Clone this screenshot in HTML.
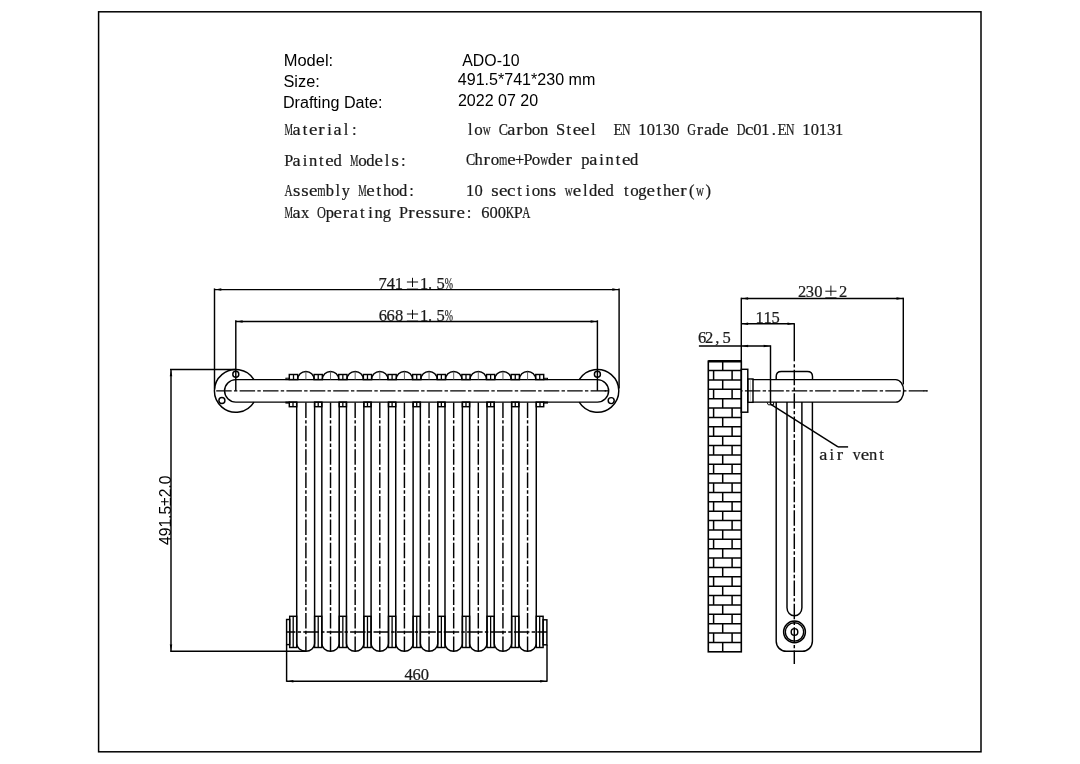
<!DOCTYPE html>
<html><head><meta charset="utf-8"><title>ADO-10</title><style>
html,body{margin:0;padding:0;background:#fff;width:1080px;height:764px;overflow:hidden}
svg{display:block;will-change:transform}
svg *{vector-effect:none}
.s line,.s path,.s rect,.s circle{stroke:#000;fill:none;stroke-width:1.45}
.s .ah{fill:#000;stroke:none}
.s .cl{stroke-dasharray:15.5 2.25 3.4 2.25;stroke-width:1.45}
.s .thin{stroke:#555;stroke-width:0.9}
text{fill:#000;stroke:none}
.ss{font-family:"Liberation Sans",sans-serif;font-size:15.8px;fill:#000}
.sf{font-family:"Liberation Serif",serif;font-size:16.5px;fill:#1a1a1a;stroke:#1a1a1a;stroke-width:0.22px}
</style></head><body>
<svg class="s" width="1080" height="764" viewBox="0 0 1080 764">
<rect x="98.6" y="11.8" width="882.4" height="740" style="stroke-width:1.5px"/>
<text class="ss" transform="translate(283.65 66.1) scale(1.045 1)">Model:</text>
<text class="ss" transform="translate(283.46 86.6) scale(1.034 1)">Size:</text>
<text class="ss" transform="translate(282.88 108.3) scale(1.022 1)">Drafting Date:</text>
<text class="ss" transform="translate(462.27 65.8) scale(1.005 1)">ADO-10</text>
<text class="ss" transform="translate(457.83 85.3) scale(1.017 1)">491.5*741*230 mm</text>
<text class="ss" transform="translate(457.89 106.4) scale(1.015 1)">2022 07 20</text>
<text class="sf" transform="translate(284.38 134.8) scale(0.576 1)">M</text>
<text class="sf" transform="translate(292.56 134.8) scale(1.105 1)">a</text>
<text class="sf" x="302.68" y="134.8">t</text>
<text class="sf" transform="translate(308.95 134.8) scale(1.150 1)">e</text>
<text class="sf" transform="translate(318.13 134.8) scale(1.150 1)">r</text>
<text class="sf" x="327.29" y="134.8">i</text>
<text class="sf" transform="translate(333.56 134.8) scale(1.105 1)">a</text>
<text class="sf" x="343.71" y="134.8">l</text>
<text class="sf" x="351.92" y="134.8">:</text>
<text class="sf" x="468.11" y="135">l</text>
<text class="sf" transform="translate(474.35 135) scale(1.030 1)">o</text>
<text class="sf" transform="translate(482.84 135) scale(0.668 1)">w</text>
<text class="sf" transform="translate(498.68 135) scale(0.839 1)">C</text>
<text class="sf" transform="translate(507.16 135) scale(1.105 1)">a</text>
<text class="sf" transform="translate(516.33 135) scale(1.150 1)">r</text>
<text class="sf" x="523.99" y="135">b</text>
<text class="sf" transform="translate(531.75 135) scale(1.030 1)">o</text>
<text class="sf" x="540.01" y="135">n</text>
<text class="sf" x="555.97" y="135">S</text>
<text class="sf" x="566.48" y="135">t</text>
<text class="sf" transform="translate(572.75 135) scale(1.150 1)">e</text>
<text class="sf" transform="translate(580.95 135) scale(1.150 1)">e</text>
<text class="sf" x="591.11" y="135">l</text>
<text class="sf" transform="translate(613.62 135) scale(0.900 1)">E</text>
<text class="sf" transform="translate(621.91 135) scale(0.714 1)">N</text>
<text class="sf" x="638.25" y="135">1</text>
<text class="sf" x="646.67" y="135">0</text>
<text class="sf" x="654.65" y="135">1</text>
<text class="sf" x="663" y="135">3</text>
<text class="sf" x="671.27" y="135">0</text>
<text class="sf" transform="translate(687.35 135) scale(0.737 1)">G</text>
<text class="sf" transform="translate(696.73 135) scale(1.150 1)">r</text>
<text class="sf" transform="translate(703.96 135) scale(1.105 1)">a</text>
<text class="sf" x="712.08" y="135">d</text>
<text class="sf" transform="translate(720.35 135) scale(1.150 1)">e</text>
<text class="sf" transform="translate(736.7 135) scale(0.733 1)">D</text>
<text class="sf" transform="translate(744.92 135) scale(1.150 1)">c</text>
<text class="sf" x="753.27" y="135">0</text>
<text class="sf" x="761.25" y="135">1</text>
<text class="sf" x="771.74" y="135">.</text>
<text class="sf" transform="translate(777.62 135) scale(0.900 1)">E</text>
<text class="sf" transform="translate(785.91 135) scale(0.714 1)">N</text>
<text class="sf" x="802.25" y="135">1</text>
<text class="sf" x="810.67" y="135">0</text>
<text class="sf" x="818.65" y="135">1</text>
<text class="sf" x="827" y="135">3</text>
<text class="sf" x="835.05" y="135">1</text>
<text class="sf" transform="translate(284.18 166) scale(0.983 1)">P</text>
<text class="sf" transform="translate(292.56 166) scale(1.105 1)">a</text>
<text class="sf" x="302.69" y="166">i</text>
<text class="sf" x="309.01" y="166">n</text>
<text class="sf" x="319.08" y="166">t</text>
<text class="sf" transform="translate(325.35 166) scale(1.150 1)">e</text>
<text class="sf" x="333.48" y="166">d</text>
<text class="sf" transform="translate(349.98 166) scale(0.576 1)">M</text>
<text class="sf" transform="translate(358.15 166) scale(1.030 1)">o</text>
<text class="sf" x="366.28" y="166">d</text>
<text class="sf" transform="translate(374.55 166) scale(1.150 1)">e</text>
<text class="sf" x="384.71" y="166">l</text>
<text class="sf" transform="translate(391.46 166) scale(1.150 1)">s</text>
<text class="sf" x="401.12" y="166">:</text>
<text class="sf" transform="translate(465.88 165.2) scale(0.839 1)">C</text>
<text class="sf" x="474.5" y="165.2">h</text>
<text class="sf" transform="translate(483.53 165.2) scale(1.150 1)">r</text>
<text class="sf" transform="translate(490.75 165.2) scale(1.030 1)">o</text>
<text class="sf" transform="translate(499.03 165.2) scale(0.646 1)">m</text>
<text class="sf" transform="translate(507.15 165.2) scale(1.150 1)">e</text>
<text class="sf" x="514.94" y="165.2">+</text>
<text class="sf" transform="translate(523.38 165.2) scale(0.983 1)">P</text>
<text class="sf" transform="translate(531.75 165.2) scale(1.030 1)">o</text>
<text class="sf" transform="translate(540.24 165.2) scale(0.668 1)">w</text>
<text class="sf" x="548.08" y="165.2">d</text>
<text class="sf" transform="translate(556.35 165.2) scale(1.150 1)">e</text>
<text class="sf" transform="translate(565.53 165.2) scale(1.150 1)">r</text>
<text class="sf" x="581.26" y="165.2">p</text>
<text class="sf" transform="translate(589.16 165.2) scale(1.105 1)">a</text>
<text class="sf" x="599.29" y="165.2">i</text>
<text class="sf" x="605.61" y="165.2">n</text>
<text class="sf" x="615.68" y="165.2">t</text>
<text class="sf" transform="translate(621.95 165.2) scale(1.150 1)">e</text>
<text class="sf" x="630.08" y="165.2">d</text>
<text class="sf" transform="translate(284.54 195.5) scale(0.679 1)">A</text>
<text class="sf" transform="translate(293.06 195.5) scale(1.150 1)">s</text>
<text class="sf" transform="translate(301.26 195.5) scale(1.150 1)">s</text>
<text class="sf" transform="translate(308.95 195.5) scale(1.150 1)">e</text>
<text class="sf" transform="translate(317.23 195.5) scale(0.646 1)">m</text>
<text class="sf" x="325.79" y="195.5">b</text>
<text class="sf" x="335.51" y="195.5">l</text>
<text class="sf" transform="translate(341.85 195.5) scale(0.989 1)">y</text>
<text class="sf" transform="translate(358.18 195.5) scale(0.576 1)">M</text>
<text class="sf" transform="translate(366.35 195.5) scale(1.150 1)">e</text>
<text class="sf" x="376.48" y="195.5">t</text>
<text class="sf" x="382.9" y="195.5">h</text>
<text class="sf" transform="translate(390.95 195.5) scale(1.030 1)">o</text>
<text class="sf" x="399.08" y="195.5">d</text>
<text class="sf" x="409.32" y="195.5">:</text>
<text class="sf" x="466.05" y="195.6">1</text>
<text class="sf" x="474.48" y="195.6">0</text>
<text class="sf" transform="translate(491.26 195.6) scale(1.150 1)">s</text>
<text class="sf" transform="translate(498.95 195.6) scale(1.150 1)">e</text>
<text class="sf" transform="translate(507.12 195.6) scale(1.150 1)">c</text>
<text class="sf" x="517.28" y="195.6">t</text>
<text class="sf" x="525.49" y="195.6">i</text>
<text class="sf" transform="translate(531.75 195.6) scale(1.030 1)">o</text>
<text class="sf" x="540.01" y="195.6">n</text>
<text class="sf" transform="translate(548.66 195.6) scale(1.150 1)">s</text>
<text class="sf" transform="translate(564.84 195.6) scale(0.668 1)">w</text>
<text class="sf" transform="translate(572.75 195.6) scale(1.150 1)">e</text>
<text class="sf" x="582.91" y="195.6">l</text>
<text class="sf" x="589.08" y="195.6">d</text>
<text class="sf" transform="translate(597.35 195.6) scale(1.150 1)">e</text>
<text class="sf" x="605.48" y="195.6">d</text>
<text class="sf" x="623.88" y="195.6">t</text>
<text class="sf" transform="translate(630.15 195.6) scale(1.030 1)">o</text>
<text class="sf" x="638.28" y="195.6">g</text>
<text class="sf" transform="translate(646.55 195.6) scale(1.150 1)">e</text>
<text class="sf" x="656.68" y="195.6">t</text>
<text class="sf" x="663.1" y="195.6">h</text>
<text class="sf" transform="translate(671.15 195.6) scale(1.150 1)">e</text>
<text class="sf" transform="translate(680.33 195.6) scale(1.150 1)">r</text>
<text class="sf" x="688.96" y="195.6">(</text>
<text class="sf" transform="translate(696.04 195.6) scale(0.668 1)">w</text>
<text class="sf" x="705.55" y="195.6">)</text>
<text class="sf" transform="translate(284.38 218.1) scale(0.576 1)">M</text>
<text class="sf" transform="translate(292.56 218.1) scale(1.105 1)">a</text>
<text class="sf" x="300.91" y="218.1">x</text>
<text class="sf" transform="translate(316.94 218.1) scale(0.748 1)">O</text>
<text class="sf" x="325.66" y="218.1">p</text>
<text class="sf" transform="translate(333.55 218.1) scale(1.150 1)">e</text>
<text class="sf" transform="translate(342.73 218.1) scale(1.150 1)">r</text>
<text class="sf" transform="translate(349.96 218.1) scale(1.105 1)">a</text>
<text class="sf" x="360.08" y="218.1">t</text>
<text class="sf" x="368.29" y="218.1">i</text>
<text class="sf" x="374.61" y="218.1">n</text>
<text class="sf" x="382.68" y="218.1">g</text>
<text class="sf" transform="translate(398.98 218.1) scale(0.983 1)">P</text>
<text class="sf" transform="translate(408.33 218.1) scale(1.150 1)">r</text>
<text class="sf" transform="translate(415.55 218.1) scale(1.150 1)">e</text>
<text class="sf" transform="translate(424.26 218.1) scale(1.150 1)">s</text>
<text class="sf" transform="translate(432.46 218.1) scale(1.150 1)">s</text>
<text class="sf" x="440.31" y="218.1">u</text>
<text class="sf" transform="translate(449.33 218.1) scale(1.150 1)">r</text>
<text class="sf" transform="translate(456.55 218.1) scale(1.150 1)">e</text>
<text class="sf" x="466.72" y="218.1">:</text>
<text class="sf" x="481.17" y="218.1">6</text>
<text class="sf" x="489.48" y="218.1">0</text>
<text class="sf" x="497.67" y="218.1">0</text>
<text class="sf" transform="translate(505.72 218.1) scale(0.701 1)">K</text>
<text class="sf" transform="translate(513.78 218.1) scale(0.983 1)">P</text>
<text class="sf" transform="translate(522.34 218.1) scale(0.679 1)">A</text>
<line x1="214.5" y1="288.4" x2="214.5" y2="388.6"/>
<line x1="619.1" y1="288.4" x2="619.1" y2="388.6"/>
<line x1="214.5" y1="289.6" x2="619.1" y2="289.6"/>
<path class="ah" d="M215.3 289.6L221.3 288.35L221.3 290.85Z"/>
<path class="ah" d="M618.3 289.6L612.3 290.85L612.3 288.35Z"/>
<line x1="235.8" y1="320.3" x2="235.8" y2="390.85"/>
<line x1="597.4" y1="320.3" x2="597.4" y2="390.85"/>
<line x1="235.8" y1="321.5" x2="597.4" y2="321.5"/>
<path class="ah" d="M236.6 321.5L242.6 320.25L242.6 322.75Z"/>
<path class="ah" d="M596.6 321.5L590.6 322.75L590.6 320.25Z"/>
<text class="sf" x="378.57" y="288.6">7</text>
<text class="sf" x="386.64" y="288.6">4</text>
<text class="sf" x="394.85" y="288.6">1</text>
<line x1="412.5" y1="277.8" x2="412.5" y2="287" style="stroke-width:0.95px"/>
<line x1="406.9" y1="282" x2="418.1" y2="282" style="stroke-width:0.95px"/>
<line x1="406.9" y1="289.1" x2="418.1" y2="289.1" style="stroke-width:0.95px"/>
<text class="sf" x="419.95" y="288.6">1</text>
<text class="sf" x="427.94" y="288.6">.</text>
<text class="sf" x="436.52" y="288.6">5</text>
<text class="sf" transform="translate(444.86 288.6) scale(0.602 1)">%</text>
<text class="sf" x="378.77" y="320.6">6</text>
<text class="sf" x="386.57" y="320.6">6</text>
<text class="sf" x="395.07" y="320.6">8</text>
<line x1="412.5" y1="309.8" x2="412.5" y2="319" style="stroke-width:0.95px"/>
<line x1="406.9" y1="314" x2="418.1" y2="314" style="stroke-width:0.95px"/>
<line x1="406.9" y1="321.1" x2="418.1" y2="321.1" style="stroke-width:0.95px"/>
<text class="sf" x="419.95" y="320.6">1</text>
<text class="sf" x="427.94" y="320.6">.</text>
<text class="sf" x="436.52" y="320.6">5</text>
<text class="sf" transform="translate(444.86 320.6) scale(0.602 1)">%</text>
<path d="M254 379.6A21.4 21.4 0 1 0 254 402.1"/>
<path d="M579.2 379.6A21.4 21.4 0 1 1 579.2 402.1"/>
<circle cx="235.8" cy="374.2" r="3"/>
<circle cx="221.9" cy="400.5" r="3"/>
<circle cx="597.4" cy="374.3" r="3"/>
<circle cx="611.2" cy="400.6" r="3"/>
<path d="M235.8 379.6H597.4A11.25 11.25 0 0 1 597.4 402.1H235.8A11.25 11.25 0 0 1 235.8 379.6Z"/>
<line x1="215.2" y1="390.85" x2="608.4" y2="390.85" class="cl" stroke-dashoffset="22.4"/>
<line x1="604.6" y1="390.85" x2="608.4" y2="390.85" style="stroke-width:1.3px"/>
<path d="M297.7 379.6A8.2 8.2 0 0 1 314.1 379.6"/>
<line x1="305.9" y1="371.4" x2="305.9" y2="379.6" class="thin"/>
<path d="M296.7 402.1V643.4C296.7 647.75 300.84 651.3 305.9 651.3C310.69 651.3 314.6 647.75 314.6 643.4V402.1"/>
<line x1="305.9" y1="402.4" x2="305.9" y2="651.3" class="cl"/>
<path d="M322.33 379.6A8.2 8.2 0 0 1 338.73 379.6"/>
<line x1="330.53" y1="371.4" x2="330.53" y2="379.6" class="thin"/>
<path d="M321.83 402.1V643.4C321.83 647.75 325.74 651.3 330.53 651.3C335.31 651.3 339.23 647.75 339.23 643.4V402.1"/>
<line x1="330.53" y1="402.4" x2="330.53" y2="651.3" class="cl"/>
<path d="M346.96 379.6A8.2 8.2 0 0 1 363.36 379.6"/>
<line x1="355.16" y1="371.4" x2="355.16" y2="379.6" class="thin"/>
<path d="M346.46 402.1V643.4C346.46 647.75 350.37 651.3 355.16 651.3C359.94 651.3 363.86 647.75 363.86 643.4V402.1"/>
<line x1="355.16" y1="402.4" x2="355.16" y2="651.3" class="cl"/>
<path d="M371.59 379.6A8.2 8.2 0 0 1 387.99 379.6"/>
<line x1="379.79" y1="371.4" x2="379.79" y2="379.6" class="thin"/>
<path d="M371.09 402.1V643.4C371.09 647.75 375 651.3 379.79 651.3C384.57 651.3 388.49 647.75 388.49 643.4V402.1"/>
<line x1="379.79" y1="402.4" x2="379.79" y2="651.3" class="cl"/>
<path d="M396.22 379.6A8.2 8.2 0 0 1 412.62 379.6"/>
<line x1="404.42" y1="371.4" x2="404.42" y2="379.6" class="thin"/>
<path d="M395.72 402.1V643.4C395.72 647.75 399.63 651.3 404.42 651.3C409.2 651.3 413.12 647.75 413.12 643.4V402.1"/>
<line x1="404.42" y1="402.4" x2="404.42" y2="651.3" class="cl"/>
<path d="M420.85 379.6A8.2 8.2 0 0 1 437.25 379.6"/>
<line x1="429.05" y1="371.4" x2="429.05" y2="379.6" class="thin"/>
<path d="M420.35 402.1V643.4C420.35 647.75 424.26 651.3 429.05 651.3C433.83 651.3 437.75 647.75 437.75 643.4V402.1"/>
<line x1="429.05" y1="402.4" x2="429.05" y2="651.3" class="cl"/>
<path d="M445.48 379.6A8.2 8.2 0 0 1 461.88 379.6"/>
<line x1="453.68" y1="371.4" x2="453.68" y2="379.6" class="thin"/>
<path d="M444.98 402.1V643.4C444.98 647.75 448.89 651.3 453.68 651.3C458.46 651.3 462.38 647.75 462.38 643.4V402.1"/>
<line x1="453.68" y1="402.4" x2="453.68" y2="651.3" class="cl"/>
<path d="M470.11 379.6A8.2 8.2 0 0 1 486.51 379.6"/>
<line x1="478.31" y1="371.4" x2="478.31" y2="379.6" class="thin"/>
<path d="M469.61 402.1V643.4C469.61 647.75 473.52 651.3 478.31 651.3C483.09 651.3 487.01 647.75 487.01 643.4V402.1"/>
<line x1="478.31" y1="402.4" x2="478.31" y2="651.3" class="cl"/>
<path d="M494.74 379.6A8.2 8.2 0 0 1 511.14 379.6"/>
<line x1="502.94" y1="371.4" x2="502.94" y2="379.6" class="thin"/>
<path d="M494.24 402.1V643.4C494.24 647.75 498.15 651.3 502.94 651.3C507.72 651.3 511.64 647.75 511.64 643.4V402.1"/>
<line x1="502.94" y1="402.4" x2="502.94" y2="651.3" class="cl"/>
<path d="M519.37 379.6A8.2 8.2 0 0 1 535.77 379.6"/>
<line x1="527.57" y1="371.4" x2="527.57" y2="379.6" class="thin"/>
<path d="M518.87 402.1V643.4C518.87 647.75 522.78 651.3 527.57 651.3C532.35 651.3 536.27 647.75 536.27 643.4V402.1"/>
<line x1="527.57" y1="402.4" x2="527.57" y2="651.3" class="cl"/>
<rect x="314.1" y="374.5" width="8.23" height="5.1"/>
<line x1="318.21" y1="374.5" x2="318.21" y2="379.6" style="stroke-width:1.3px"/>
<rect x="314.6" y="402.1" width="7.23" height="4.6"/>
<line x1="318.21" y1="402.1" x2="318.21" y2="406.7" style="stroke-width:1.3px"/>
<rect x="338.73" y="374.5" width="8.23" height="5.1"/>
<line x1="342.84" y1="374.5" x2="342.84" y2="379.6" style="stroke-width:1.3px"/>
<rect x="339.23" y="402.1" width="7.23" height="4.6"/>
<line x1="342.84" y1="402.1" x2="342.84" y2="406.7" style="stroke-width:1.3px"/>
<rect x="363.36" y="374.5" width="8.23" height="5.1"/>
<line x1="367.47" y1="374.5" x2="367.47" y2="379.6" style="stroke-width:1.3px"/>
<rect x="363.86" y="402.1" width="7.23" height="4.6"/>
<line x1="367.47" y1="402.1" x2="367.47" y2="406.7" style="stroke-width:1.3px"/>
<rect x="387.99" y="374.5" width="8.23" height="5.1"/>
<line x1="392.1" y1="374.5" x2="392.1" y2="379.6" style="stroke-width:1.3px"/>
<rect x="388.49" y="402.1" width="7.23" height="4.6"/>
<line x1="392.1" y1="402.1" x2="392.1" y2="406.7" style="stroke-width:1.3px"/>
<rect x="412.62" y="374.5" width="8.23" height="5.1"/>
<line x1="416.73" y1="374.5" x2="416.73" y2="379.6" style="stroke-width:1.3px"/>
<rect x="413.12" y="402.1" width="7.23" height="4.6"/>
<line x1="416.73" y1="402.1" x2="416.73" y2="406.7" style="stroke-width:1.3px"/>
<rect x="437.25" y="374.5" width="8.23" height="5.1"/>
<line x1="441.36" y1="374.5" x2="441.36" y2="379.6" style="stroke-width:1.3px"/>
<rect x="437.75" y="402.1" width="7.23" height="4.6"/>
<line x1="441.36" y1="402.1" x2="441.36" y2="406.7" style="stroke-width:1.3px"/>
<rect x="461.88" y="374.5" width="8.23" height="5.1"/>
<line x1="465.99" y1="374.5" x2="465.99" y2="379.6" style="stroke-width:1.3px"/>
<rect x="462.38" y="402.1" width="7.23" height="4.6"/>
<line x1="465.99" y1="402.1" x2="465.99" y2="406.7" style="stroke-width:1.3px"/>
<rect x="486.51" y="374.5" width="8.23" height="5.1"/>
<line x1="490.62" y1="374.5" x2="490.62" y2="379.6" style="stroke-width:1.3px"/>
<rect x="487.01" y="402.1" width="7.23" height="4.6"/>
<line x1="490.62" y1="402.1" x2="490.62" y2="406.7" style="stroke-width:1.3px"/>
<rect x="511.14" y="374.5" width="8.23" height="5.1"/>
<line x1="515.25" y1="374.5" x2="515.25" y2="379.6" style="stroke-width:1.3px"/>
<rect x="511.64" y="402.1" width="7.23" height="4.6"/>
<line x1="515.25" y1="402.1" x2="515.25" y2="406.7" style="stroke-width:1.3px"/>
<rect x="289.3" y="374.5" width="8.4" height="5.1"/>
<line x1="293.5" y1="374.5" x2="293.5" y2="379.6" style="stroke-width:1.3px"/>
<rect x="535.77" y="374.5" width="7.93" height="5.1"/>
<line x1="539.74" y1="374.5" x2="539.74" y2="379.6" style="stroke-width:1.3px"/>
<rect x="289.3" y="402.1" width="7.4" height="4.6"/>
<line x1="293" y1="402.1" x2="293" y2="406.7" style="stroke-width:1.3px"/>
<rect x="536.27" y="402.1" width="7.43" height="4.6"/>
<line x1="539.99" y1="402.1" x2="539.99" y2="406.7" style="stroke-width:1.3px"/>
<rect x="285.9" y="378.2" width="3.4" height="1.4" style="stroke-width:1px"/>
<rect x="543.7" y="378.3" width="3.8" height="1.3" style="stroke-width:1px"/>
<rect x="285.9" y="402.1" width="3.4" height="1" style="stroke-width:1px"/>
<rect x="543.7" y="402.1" width="3.8" height="1" style="stroke-width:1px"/>
<rect x="314.6" y="616.3" width="7.23" height="31.2"/>
<line x1="318.21" y1="616.3" x2="318.21" y2="647.5" style="stroke-width:1.3px"/>
<rect x="339.23" y="616.3" width="7.23" height="31.2"/>
<line x1="342.84" y1="616.3" x2="342.84" y2="647.5" style="stroke-width:1.3px"/>
<rect x="363.86" y="616.3" width="7.23" height="31.2"/>
<line x1="367.47" y1="616.3" x2="367.47" y2="647.5" style="stroke-width:1.3px"/>
<rect x="388.49" y="616.3" width="7.23" height="31.2"/>
<line x1="392.1" y1="616.3" x2="392.1" y2="647.5" style="stroke-width:1.3px"/>
<rect x="413.12" y="616.3" width="7.23" height="31.2"/>
<line x1="416.73" y1="616.3" x2="416.73" y2="647.5" style="stroke-width:1.3px"/>
<rect x="437.75" y="616.3" width="7.23" height="31.2"/>
<line x1="441.36" y1="616.3" x2="441.36" y2="647.5" style="stroke-width:1.3px"/>
<rect x="462.38" y="616.3" width="7.23" height="31.2"/>
<line x1="465.99" y1="616.3" x2="465.99" y2="647.5" style="stroke-width:1.3px"/>
<rect x="487.01" y="616.3" width="7.23" height="31.2"/>
<line x1="490.62" y1="616.3" x2="490.62" y2="647.5" style="stroke-width:1.3px"/>
<rect x="511.64" y="616.3" width="7.23" height="31.2"/>
<line x1="515.25" y1="616.3" x2="515.25" y2="647.5" style="stroke-width:1.3px"/>
<rect x="289.7" y="616.3" width="7" height="31.2"/>
<line x1="293.2" y1="616.3" x2="293.2" y2="647.5" style="stroke-width:1.3px"/>
<rect x="536.27" y="616.3" width="6.83" height="31.2"/>
<line x1="539.68" y1="616.3" x2="539.68" y2="647.5" style="stroke-width:1.3px"/>
<rect x="286.6" y="619.5" width="3.1" height="25.1"/>
<rect x="543.1" y="619.8" width="3.8" height="25"/>
<line x1="286.6" y1="632" x2="547" y2="632" class="cl" stroke-dashoffset="6.7"/>
<line x1="170" y1="369.4" x2="235.8" y2="369.4"/>
<line x1="170.2" y1="651.3" x2="305.9" y2="651.3"/>
<line x1="171" y1="369.4" x2="171" y2="651.3"/>
<path class="ah" d="M171 370.2L172.25 376.2L169.75 376.2Z"/>
<path class="ah" d="M171 650.5L169.75 644.5L172.25 644.5Z"/>
<text class="ss" transform="translate(170.6 510.3) rotate(-90)" text-anchor="middle" style="font-size:15.6px">491.5±2.0</text>
<line x1="286.6" y1="644.6" x2="286.6" y2="681.8"/>
<line x1="547" y1="644.8" x2="547" y2="681.8"/>
<line x1="286.6" y1="681.3" x2="547" y2="681.3"/>
<path class="ah" d="M287.4 681.3L293.4 680.05L293.4 682.55Z"/>
<path class="ah" d="M546.2 681.3L540.2 682.55L540.2 680.05Z"/>
<text class="sf" x="404.44" y="680.4">4</text>
<text class="sf" x="412.47" y="680.4">6</text>
<text class="sf" x="420.68" y="680.4">0</text>
<g stroke-width="1.6">
<rect x="708.3" y="361.2" width="33" height="290.6" style="stroke-width:1.6px"/>
<line x1="708.3" y1="370.57" x2="741.3" y2="370.57" style="stroke-width:1.5px"/>
<line x1="708.3" y1="379.95" x2="741.3" y2="379.95" style="stroke-width:1.5px"/>
<line x1="708.3" y1="389.32" x2="741.3" y2="389.32" style="stroke-width:1.5px"/>
<line x1="708.3" y1="398.7" x2="741.3" y2="398.7" style="stroke-width:1.5px"/>
<line x1="708.3" y1="408.07" x2="741.3" y2="408.07" style="stroke-width:1.5px"/>
<line x1="708.3" y1="417.45" x2="741.3" y2="417.45" style="stroke-width:1.5px"/>
<line x1="708.3" y1="426.82" x2="741.3" y2="426.82" style="stroke-width:1.5px"/>
<line x1="708.3" y1="436.19" x2="741.3" y2="436.19" style="stroke-width:1.5px"/>
<line x1="708.3" y1="445.57" x2="741.3" y2="445.57" style="stroke-width:1.5px"/>
<line x1="708.3" y1="454.94" x2="741.3" y2="454.94" style="stroke-width:1.5px"/>
<line x1="708.3" y1="464.32" x2="741.3" y2="464.32" style="stroke-width:1.5px"/>
<line x1="708.3" y1="473.69" x2="741.3" y2="473.69" style="stroke-width:1.5px"/>
<line x1="708.3" y1="483.06" x2="741.3" y2="483.06" style="stroke-width:1.5px"/>
<line x1="708.3" y1="492.44" x2="741.3" y2="492.44" style="stroke-width:1.5px"/>
<line x1="708.3" y1="501.81" x2="741.3" y2="501.81" style="stroke-width:1.5px"/>
<line x1="708.3" y1="511.19" x2="741.3" y2="511.19" style="stroke-width:1.5px"/>
<line x1="708.3" y1="520.56" x2="741.3" y2="520.56" style="stroke-width:1.5px"/>
<line x1="708.3" y1="529.94" x2="741.3" y2="529.94" style="stroke-width:1.5px"/>
<line x1="708.3" y1="539.31" x2="741.3" y2="539.31" style="stroke-width:1.5px"/>
<line x1="708.3" y1="548.68" x2="741.3" y2="548.68" style="stroke-width:1.5px"/>
<line x1="708.3" y1="558.06" x2="741.3" y2="558.06" style="stroke-width:1.5px"/>
<line x1="708.3" y1="567.43" x2="741.3" y2="567.43" style="stroke-width:1.5px"/>
<line x1="708.3" y1="576.81" x2="741.3" y2="576.81" style="stroke-width:1.5px"/>
<line x1="708.3" y1="586.18" x2="741.3" y2="586.18" style="stroke-width:1.5px"/>
<line x1="708.3" y1="595.55" x2="741.3" y2="595.55" style="stroke-width:1.5px"/>
<line x1="708.3" y1="604.93" x2="741.3" y2="604.93" style="stroke-width:1.5px"/>
<line x1="708.3" y1="614.3" x2="741.3" y2="614.3" style="stroke-width:1.5px"/>
<line x1="708.3" y1="623.68" x2="741.3" y2="623.68" style="stroke-width:1.5px"/>
<line x1="708.3" y1="633.05" x2="741.3" y2="633.05" style="stroke-width:1.5px"/>
<line x1="708.3" y1="642.43" x2="741.3" y2="642.43" style="stroke-width:1.5px"/>
<line x1="722.7" y1="361.2" x2="722.7" y2="370.57" style="stroke-width:1.5px"/>
<line x1="713.6" y1="370.57" x2="713.6" y2="379.95" style="stroke-width:1.5px"/>
<line x1="732.1" y1="370.57" x2="732.1" y2="379.95" style="stroke-width:1.5px"/>
<line x1="722.7" y1="379.95" x2="722.7" y2="389.32" style="stroke-width:1.5px"/>
<line x1="713.6" y1="389.32" x2="713.6" y2="398.7" style="stroke-width:1.5px"/>
<line x1="732.1" y1="389.32" x2="732.1" y2="398.7" style="stroke-width:1.5px"/>
<line x1="722.7" y1="398.7" x2="722.7" y2="408.07" style="stroke-width:1.5px"/>
<line x1="713.6" y1="408.07" x2="713.6" y2="417.45" style="stroke-width:1.5px"/>
<line x1="732.1" y1="408.07" x2="732.1" y2="417.45" style="stroke-width:1.5px"/>
<line x1="722.7" y1="417.45" x2="722.7" y2="426.82" style="stroke-width:1.5px"/>
<line x1="713.6" y1="426.82" x2="713.6" y2="436.19" style="stroke-width:1.5px"/>
<line x1="732.1" y1="426.82" x2="732.1" y2="436.19" style="stroke-width:1.5px"/>
<line x1="722.7" y1="436.19" x2="722.7" y2="445.57" style="stroke-width:1.5px"/>
<line x1="713.6" y1="445.57" x2="713.6" y2="454.94" style="stroke-width:1.5px"/>
<line x1="732.1" y1="445.57" x2="732.1" y2="454.94" style="stroke-width:1.5px"/>
<line x1="722.7" y1="454.94" x2="722.7" y2="464.32" style="stroke-width:1.5px"/>
<line x1="713.6" y1="464.32" x2="713.6" y2="473.69" style="stroke-width:1.5px"/>
<line x1="732.1" y1="464.32" x2="732.1" y2="473.69" style="stroke-width:1.5px"/>
<line x1="722.7" y1="473.69" x2="722.7" y2="483.06" style="stroke-width:1.5px"/>
<line x1="713.6" y1="483.06" x2="713.6" y2="492.44" style="stroke-width:1.5px"/>
<line x1="732.1" y1="483.06" x2="732.1" y2="492.44" style="stroke-width:1.5px"/>
<line x1="722.7" y1="492.44" x2="722.7" y2="501.81" style="stroke-width:1.5px"/>
<line x1="713.6" y1="501.81" x2="713.6" y2="511.19" style="stroke-width:1.5px"/>
<line x1="732.1" y1="501.81" x2="732.1" y2="511.19" style="stroke-width:1.5px"/>
<line x1="722.7" y1="511.19" x2="722.7" y2="520.56" style="stroke-width:1.5px"/>
<line x1="713.6" y1="520.56" x2="713.6" y2="529.94" style="stroke-width:1.5px"/>
<line x1="732.1" y1="520.56" x2="732.1" y2="529.94" style="stroke-width:1.5px"/>
<line x1="722.7" y1="529.94" x2="722.7" y2="539.31" style="stroke-width:1.5px"/>
<line x1="713.6" y1="539.31" x2="713.6" y2="548.68" style="stroke-width:1.5px"/>
<line x1="732.1" y1="539.31" x2="732.1" y2="548.68" style="stroke-width:1.5px"/>
<line x1="722.7" y1="548.68" x2="722.7" y2="558.06" style="stroke-width:1.5px"/>
<line x1="713.6" y1="558.06" x2="713.6" y2="567.43" style="stroke-width:1.5px"/>
<line x1="732.1" y1="558.06" x2="732.1" y2="567.43" style="stroke-width:1.5px"/>
<line x1="722.7" y1="567.43" x2="722.7" y2="576.81" style="stroke-width:1.5px"/>
<line x1="713.6" y1="576.81" x2="713.6" y2="586.18" style="stroke-width:1.5px"/>
<line x1="732.1" y1="576.81" x2="732.1" y2="586.18" style="stroke-width:1.5px"/>
<line x1="722.7" y1="586.18" x2="722.7" y2="595.55" style="stroke-width:1.5px"/>
<line x1="713.6" y1="595.55" x2="713.6" y2="604.93" style="stroke-width:1.5px"/>
<line x1="732.1" y1="595.55" x2="732.1" y2="604.93" style="stroke-width:1.5px"/>
<line x1="722.7" y1="604.93" x2="722.7" y2="614.3" style="stroke-width:1.5px"/>
<line x1="713.6" y1="614.3" x2="713.6" y2="623.68" style="stroke-width:1.5px"/>
<line x1="732.1" y1="614.3" x2="732.1" y2="623.68" style="stroke-width:1.5px"/>
<line x1="722.7" y1="623.68" x2="722.7" y2="633.05" style="stroke-width:1.5px"/>
<line x1="713.6" y1="633.05" x2="713.6" y2="642.43" style="stroke-width:1.5px"/>
<line x1="732.1" y1="633.05" x2="732.1" y2="642.43" style="stroke-width:1.5px"/>
<line x1="722.7" y1="642.43" x2="722.7" y2="651.8" style="stroke-width:1.5px"/>
</g>
<line x1="708.3" y1="361.2" x2="741.3" y2="361.2" style="stroke-width:2.6px"/>
<rect x="741.3" y="369.3" width="6.5" height="42.9"/>
<rect x="747.8" y="379" width="5.2" height="23.3"/>
<line x1="750.4" y1="379.6" x2="750.4" y2="401.8" style="stroke:#999;stroke-width:0.6px"/>
<path d="M753 379.6H895.7A8 11.25 0 0 1 895.7 402.1H753"/>
<path d="M776.2 379.6V376.6Q776.2 371.4 781.4 371.4H807.3Q812.5 371.4 812.5 376.6V379.6"/>
<path d="M776.2 402.1V641.3A10 10 0 0 0 786.2 651.3H802.4A10 10 0 0 0 812.4 641.3V402.1"/>
<path d="M787 402.1V607.8A7.45 7.9 0 0 0 801.9 607.8V402.1"/>
<circle cx="794.5" cy="631.9" r="10.9"/>
<circle cx="794.5" cy="631.9" r="9.2"/>
<circle cx="794.5" cy="631.9" r="3.3"/>
<line x1="794.3" y1="323.2" x2="794.3" y2="361.3"/>
<line x1="794.3" y1="364.1" x2="794.3" y2="664" class="cl" stroke-dashoffset="17.7"/>
<line x1="741.6" y1="390.85" x2="927.5" y2="390.85" class="cl" stroke-dashoffset="20.1"/>
<line x1="923.5" y1="390.85" x2="927.5" y2="390.85" style="stroke-width:1.3px"/>
<path d="M767 402.3L768.3 404.8H773.6L773.6 402.3" style="stroke-width:1px"/>
<line x1="770.5" y1="404.2" x2="838" y2="446.9"/>
<line x1="838" y1="446.9" x2="848.1" y2="446.9"/>
<text class="sf" transform="translate(819.26 460.3) scale(1.105 1)">a</text>
<text class="sf" x="829.49" y="460.3">i</text>
<text class="sf" transform="translate(836.83 460.3) scale(1.150 1)">r</text>
<text class="sf" transform="translate(852.75 460.3) scale(0.958 1)">v</text>
<text class="sf" transform="translate(860.75 460.3) scale(1.150 1)">e</text>
<text class="sf" x="869.11" y="460.3">n</text>
<text class="sf" x="879.28" y="460.3">t</text>
<line x1="741.3" y1="297.7" x2="741.3" y2="361.2"/>
<line x1="741.3" y1="298.5" x2="903.3" y2="298.5"/>
<line x1="903.3" y1="297.7" x2="903.3" y2="384.5"/>
<path class="ah" d="M742.1 298.5L748.1 297.25L748.1 299.75Z"/>
<path class="ah" d="M902.5 298.5L896.5 299.75L896.5 297.25Z"/>
<text class="sf" x="798.07" y="297">2</text>
<text class="sf" x="805.8" y="297">3</text>
<text class="sf" x="814.17" y="297">0</text>
<line x1="830.9" y1="285.6" x2="830.9" y2="295.8" style="stroke-width:0.95px"/>
<line x1="825.3" y1="291.2" x2="836.5" y2="291.2" style="stroke-width:0.95px"/>
<line x1="825.3" y1="297.9" x2="836.5" y2="297.9" style="stroke-width:0.95px"/>
<text class="sf" x="838.97" y="297">2</text>
<line x1="741.3" y1="323.8" x2="794.3" y2="323.8"/>
<path class="ah" d="M742.1 323.8L748.1 322.55L748.1 325.05Z"/>
<path class="ah" d="M793.5 323.8L787.5 325.05L787.5 322.55Z"/>
<text class="sf" x="755.55" y="322.8">1</text>
<text class="sf" x="763.55" y="322.8">1</text>
<text class="sf" x="771.62" y="322.8">5</text>
<line x1="698.9" y1="346" x2="770.5" y2="346"/>
<line x1="770.5" y1="345.3" x2="770.5" y2="404.2"/>
<path class="ah" d="M742.1 346L748.1 344.75L748.1 347.25Z"/>
<path class="ah" d="M769.7 346L763.7 347.25L763.7 344.75Z"/>
<text class="sf" x="697.97" y="343.4">6</text>
<text class="sf" x="705.07" y="343.4">2</text>
<text class="sf" x="715.34" y="343.4">,</text>
<text class="sf" x="722.62" y="343.4">5</text>
</svg></body></html>
